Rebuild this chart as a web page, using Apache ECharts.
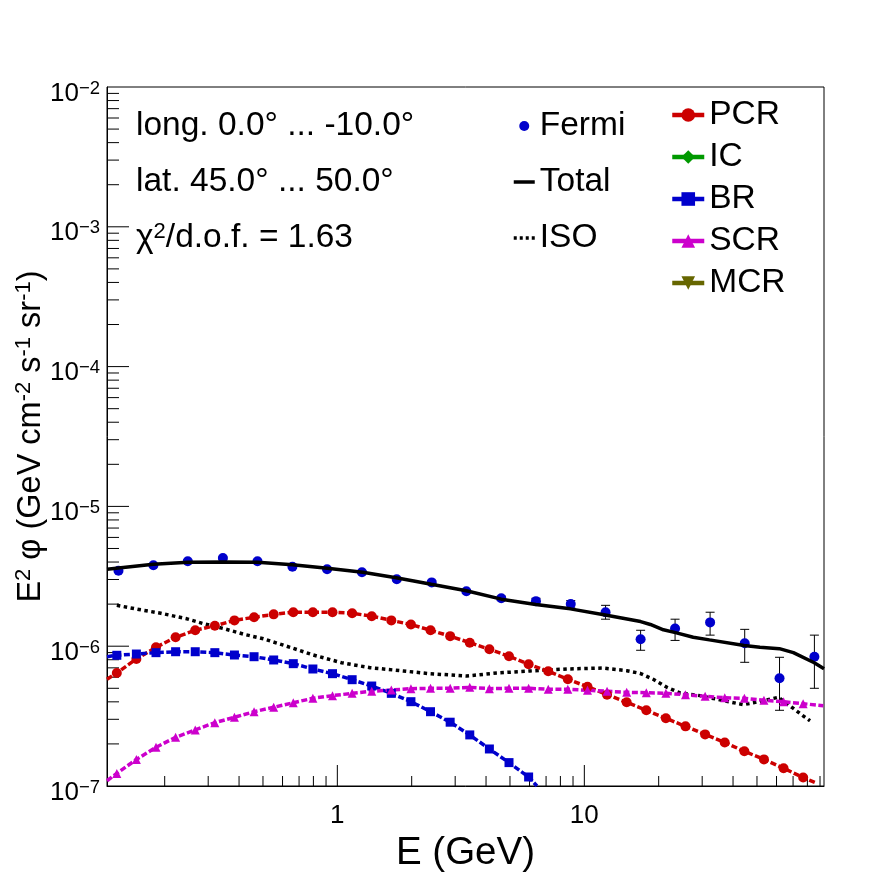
<!DOCTYPE html>
<html>
<head>
<meta charset="utf-8">
<title>Fermi spectrum</title>
<script src="https://cdn.jsdelivr.net/npm/echarts@6/dist/echarts.min.js"></script>
<style>
html, body { margin: 0; padding: 0; background: #fff; }
#container { width: 896px; height: 872px; }
</style>
</head>
<body>
<div id="container"></div>
<script>
// tick values
var xMajor = [1, 10];
var xMinor = [0.2, 0.3, 0.4, 0.5, 0.6, 0.7, 0.8, 0.9, 2, 3, 4, 5, 6, 7, 8, 9, 20, 30, 40, 50, 60, 70, 80, 90];
var yMajor = [1e-7, 1e-6, 1e-5, 1e-4, 1e-3, 1e-2];
var yMinorMant = [2, 3, 4, 5, 6, 7, 8, 9];

// Fermi points and error bars
var fermiE = [0.130, 0.180, 0.248, 0.344, 0.475, 0.658, 0.909, 1.258, 1.74, 2.41, 3.33, 4.61, 6.37, 8.81, 12.19, 16.9, 23.3, 32.3, 44.6, 61.7, 85.4];
var fermiFlux = [3.47e-6, 3.79e-6, 4.05e-6, 4.27e-6, 4.05e-6, 3.70e-6, 3.55e-6, 3.38e-6, 3.01e-6, 2.86e-6, 2.47e-6, 2.20e-6, 2.10e-6, 2.00e-6, 1.75e-6, 1.12e-6, 1.34e-6, 1.48e-6, 1.05e-6, 5.89e-7, 8.41e-7];
var fermiLow = [3.40e-6, 3.72e-6, 3.98e-6, 4.20e-6, 3.98e-6, 3.63e-6, 3.48e-6, 3.31e-6, 2.94e-6, 2.79e-6, 2.40e-6, 2.12e-6, 2.00e-6, 1.88e-6, 1.56e-6, 9.35e-7, 1.10e-6, 1.20e-6, 7.67e-7, 3.48e-7, 5.0e-7];
var fermiHigh = [3.54e-6, 3.86e-6, 4.12e-6, 4.34e-6, 4.12e-6, 3.77e-6, 3.62e-6, 3.45e-6, 3.08e-6, 2.93e-6, 2.54e-6, 2.28e-6, 2.20e-6, 2.12e-6, 1.96e-6, 1.30e-6, 1.56e-6, 1.75e-6, 1.32e-6, 8.33e-7, 1.20e-6];

// Total
var totalE = [0.1168, 0.180, 0.249, 0.345, 0.476, 0.658, 0.911, 1.267, 1.73, 2.40, 3.33, 4.61, 6.36, 8.78, 12.16, 16.9, 18.5, 20.9, 23.4, 27.6, 32.1, 44.4, 51.4, 61.6, 70.2, 85.3, 93.4];
var totalFlux = [3.55e-6, 3.85e-6, 3.98e-6, 4.00e-6, 3.98e-6, 3.83e-6, 3.61e-6, 3.38e-6, 3.09e-6, 2.77e-6, 2.49e-6, 2.17e-6, 1.99e-6, 1.85e-6, 1.67e-6, 1.50e-6, 1.43e-6, 1.31e-6, 1.25e-6, 1.16e-6, 1.11e-6, 1.01e-6, 9.82e-7, 9.60e-7, 8.99e-7, 7.62e-7, 6.90e-7];

// ISO
var isoE = [0.128, 0.160, 0.193, 0.246, 0.291, 0.345, 0.424, 0.502, 0.644, 0.799, 1.04, 1.356, 1.85, 2.37, 3.34, 4.42, 6.03, 8.49, 11.9, 14.85, 16.8, 19.0, 21.6, 24.4, 29.4, 36.5, 44.0, 48.3, 61.0, 69.1, 77.0, 82.0];
var isoFlux = [1.96e-6, 1.82e-6, 1.72e-6, 1.57e-6, 1.44e-6, 1.34e-6, 1.21e-6, 1.13e-6, 9.82e-7, 8.65e-7, 7.62e-7, 7.02e-7, 6.65e-7, 6.36e-7, 6.12e-7, 6.43e-7, 6.65e-7, 6.87e-7, 6.98e-7, 6.68e-7, 6.40e-7, 5.80e-7, 5.08e-7, 4.63e-7, 4.43e-7, 4.08e-7, 3.82e-7, 3.94e-7, 4.31e-7, 3.66e-7, 3.17e-7, 2.93e-7];

// energies where the component markers sit
var gridE = [0.128, 0.1536, 0.1844, 0.2214, 0.2659, 0.3192, 0.3832, 0.4601, 0.5524, 0.6632, 0.7962, 0.9559, 1.148, 1.378, 1.654, 1.986, 2.384, 2.863, 3.437, 4.127, 4.955, 5.949, 7.142, 8.575, 10.30, 12.36, 14.84, 17.82, 21.39, 25.68, 30.83, 37.02, 44.45, 53.37, 64.07, 76.9];
var pcrFlux = [6.43e-7, 8.10e-7, 9.82e-7, 1.158e-6, 1.30e-6, 1.40e-6, 1.53e-6, 1.61e-6, 1.69e-6, 1.75e-6, 1.75e-6, 1.75e-6, 1.72e-6, 1.64e-6, 1.53e-6, 1.43e-6, 1.30e-6, 1.18e-6, 1.06e-6, 9.50e-7, 8.47e-7, 7.42e-7, 6.61e-7, 5.80e-7, 5.13e-7, 4.50e-7, 3.97e-7, 3.48e-7, 3.05e-7, 2.67e-7, 2.34e-7, 2.05e-7, 1.77e-7, 1.55e-7, 1.34e-7, 1.15e-7];
var brFlux = [8.61e-7, 8.79e-7, 8.99e-7, 9.13e-7, 9.13e-7, 8.99e-7, 8.65e-7, 8.41e-7, 7.97e-7, 7.50e-7, 6.87e-7, 6.36e-7, 5.76e-7, 5.19e-7, 4.60e-7, 4.01e-7, 3.40e-7, 2.86e-7, 2.32e-7, 1.84e-7, 1.47e-7, 1.16e-7];
var scrFlux = [1.23e-7, 1.55e-7, 1.89e-7, 2.23e-7, 2.52e-7, 2.84e-7, 3.10e-7, 3.40e-7, 3.66e-7, 3.94e-7, 4.24e-7, 4.43e-7, 4.60e-7, 4.76e-7, 4.86e-7, 4.97e-7, 5.00e-7, 5.00e-7, 5.08e-7, 4.97e-7, 5.00e-7, 5.00e-7, 4.92e-7, 4.92e-7, 4.84e-7, 4.76e-7, 4.68e-7, 4.65e-7, 4.60e-7, 4.50e-7, 4.38e-7, 4.28e-7, 4.24e-7, 4.10e-7, 4.01e-7, 3.88e-7];

// line ends, no marker on these
var pcrEnds = [[0.1168, 5.80e-7], [87.5, 1.045e-7]];
var brEnds = [[0.1168, 8.41e-7], [6.43, 1e-7]];
var scrEnds = [[0.1168, 1.09e-7], [92.8, 3.75e-7]];

var FONT = '"Liberation Sans", Arial, sans-serif';

function zip(a, b) {
    var out = [];
    for (var i = 0; i < a.length; i++) out.push([a[i], b[i]]);
    return out;
}

// curve with a marker on each grid point, the two ends stay bare
function componentData(flux, ends) {
    return [ends[0]].concat(zip(gridE.slice(0, flux.length), flux), [ends[1]]);
}

function componentSeries(name, color, symbol, size, flux, ends) {
    var last = flux.length + 1;
    return {
        name: name,
        type: 'line',
        data: componentData(flux, ends),
        symbol: symbol,
        symbolSize: function (v, p) {
            return (p.dataIndex === 0 || p.dataIndex === last) ? 0 : size;
        },
        lineStyle: { color: color, width: 3.5, type: [6, 2.5] },
        itemStyle: { color: color },
        z: 4
    };
}

// ticks go inward from the left and bottom frame
function tickSeries() {
    var ticks = [];
    xMajor.forEach(function (v) { ticks.push([v, yMajor[0], 'x', 21]); });
    xMinor.forEach(function (v) { ticks.push([v, yMajor[0], 'x', 10]); });
    yMajor.forEach(function (v, i) {
        if (i > 0 && i < yMajor.length - 1) ticks.push([0.1168, v, 'y', 22]);
        if (i < yMajor.length - 1) {
            yMinorMant.forEach(function (m) { ticks.push([0.1168, v * m, 'y', 12]); });
        }
    });
    return {
        type: 'custom',
        silent: true,
        clip: false,
        z: 2,
        data: ticks,
        renderItem: function (params, api) {
            var p = api.coord([api.value(0), api.value(1)]);
            var len = api.value(3);
            var isX = ticks[params.dataIndex][2] === 'x';
            return {
                type: 'line',
                shape: { x1: p[0], y1: p[1], x2: isX ? p[0] : p[0] + len, y2: isX ? p[1] - len : p[1] },
                style: { stroke: '#000', lineWidth: 1 }
            };
        }
    };
}

function errorSeries() {
    var rows = [];
    for (var i = 0; i < fermiE.length; i++) rows.push([fermiE[i], fermiLow[i], fermiHigh[i]]);
    return {
        type: 'custom',
        silent: true,
        z: 3,
        data: rows,
        renderItem: function (params, api) {
            var lo = api.coord([api.value(0), api.value(1)]);
            var hi = api.coord([api.value(0), api.value(2)]);
            var st = { stroke: '#000', lineWidth: 1 };
            return {
                type: 'group',
                children: [
                    { type: 'line', shape: { x1: lo[0], y1: lo[1], x2: hi[0], y2: hi[1] }, style: st },
                    { type: 'line', shape: { x1: lo[0] - 4.5, y1: lo[1], x2: lo[0] + 4.5, y2: lo[1] }, style: st },
                    { type: 'line', shape: { x1: hi[0] - 4.5, y1: hi[1], x2: hi[0] + 4.5, y2: hi[1] }, style: st }
                ]
            };
        }
    };
}

var supRich = {
    b: { fontFamily: FONT, fontSize: 26, color: '#000' },
    s: { fontFamily: FONT, fontSize: 18.5, color: '#000', padding: [0, 0, 10, 0] }
};

var titleRich = {
    s: { fontFamily: FONT, fontSize: 22, color: '#000', padding: [0, 0, 14, 0] }
};

var noteRich = {
    s: { fontFamily: FONT, fontSize: 22, color: '#000', padding: [0, 0, 13, 0] }
};

function noteText(x, y, text) {
    return {
        type: 'text',
        x: x,
        y: y,
        style: { text: text, fontFamily: FONT, fontSize: 33.5, fill: '#000', rich: noteRich, verticalAlign: 'middle' }
    };
}

var option = {
    animation: false,
    backgroundColor: '#fff',
    textStyle: { fontFamily: FONT },
    grid: { left: 107, top: 87, width: 717, height: 699, outerBoundsMode: 'none', show: true, borderColor: '#000', borderWidth: 1, backgroundColor: 'transparent' },
    xAxis: {
        type: 'log',
        min: 0.1168,
        max: 93.4,
        name: 'E (GeV)',
        nameLocation: 'middle',
        nameGap: 48,
        nameTextStyle: { fontFamily: FONT, fontSize: 38.5, color: '#000' },
        axisLine: { lineStyle: { color: '#000', width: 1 } },
        axisTick: { show: false },
        splitLine: { show: false },
        minorTick: { show: false },
        axisLabel: {
            fontFamily: FONT,
            fontSize: 26,
            color: '#000',
            margin: 17,
            showMinLabel: true,
            showMaxLabel: true,
            formatter: function (v) {
                for (var i = 0; i < xMajor.length; i++) {
                    if (Math.abs(v / xMajor[i] - 1) < 1e-6) return String(xMajor[i]);
                }
                return '';
            }
        }
    },
    yAxis: {
        type: 'log',
        min: 1e-7,
        max: 1e-2,
        name: 'E{s|2} \u03c6 (GeV cm{s|-2} s{s|-1} sr{s|-1})',
        nameLocation: 'middle',
        nameGap: 58,
        nameRotate: 90,
        nameMoveOverlap: false,
        nameTextStyle: { fontFamily: FONT, fontSize: 32.5, color: '#000', rich: titleRich },
        axisLine: { lineStyle: { color: '#000', width: 1 } },
        axisTick: { show: false },
        splitLine: { show: false },
        minorTick: { show: false },
        axisLabel: {
            fontFamily: FONT,
            color: '#000',
            margin: 7,
            padding: [13, 0, 0, 0],
            rich: supRich,
            formatter: function (v) {
                return '{b|10}{s|\u2212' + Math.round(-Math.log10(v)) + '}';
            }
        }
    },
    legend: [
        {
            left: 670,
            top: 98,
            padding: 0,
            orient: 'vertical',
            itemWidth: 32,
            itemHeight: 17,
            itemGap: 8,
            symbolSize: 17,
            selectedMode: false,
            lineStyle: { type: 'solid', width: 4.5 },
            textStyle: { fontFamily: FONT, fontSize: 33.5, color: '#000' },
            data: ['PCR', 'IC', 'BR', 'SCR', 'MCR']
        },
        {
            left: 512,
            top: 109,
            padding: 0,
            orient: 'vertical',
            itemWidth: 21,
            itemHeight: 10,
            itemGap: 22,
            selectedMode: false,
            textStyle: { fontFamily: FONT, fontSize: 33.5, color: '#000' },
            data: [
                { name: 'Fermi', icon: 'circle' },
                { name: 'Total', itemStyle: { opacity: 0 }, lineStyle: { type: 'solid', width: 3.5 } },
                { name: 'ISO', itemStyle: { opacity: 0 }, lineStyle: { type: [3, 3], width: 3.5 } }
            ]
        }
    ],
    graphic: [
        noteText(136, 126, 'long. 0.0\u00b0 ... -10.0\u00b0'),
        noteText(136, 182, 'lat. 45.0\u00b0 ... 50.0\u00b0'),
        noteText(136, 238, '\u03c7{s|2}/d.o.f. = 1.63')
    ],
    series: [
        tickSeries(),
        errorSeries(),
        {
            name: 'ISO',
            type: 'line',
            data: zip(isoE, isoFlux),
            symbol: 'none',
            lineStyle: { color: '#000', width: 3.5, type: [3.5, 3.5] },
            itemStyle: { color: '#000' },
            z: 3
        },
        componentSeries('PCR', '#cc0000', 'circle', 10, pcrFlux, pcrEnds),
        { name: 'IC', type: 'line', data: [], symbol: 'diamond', lineStyle: { color: '#009900' }, itemStyle: { color: '#009900' } },
        componentSeries('BR', '#0000cc', 'rect', 9, brFlux, brEnds),
        componentSeries('SCR', '#cc00cc', 'triangle', 9, scrFlux, scrEnds),
        { name: 'MCR', type: 'line', data: [], symbol: 'triangle', symbolRotate: 180, lineStyle: { color: '#666600' }, itemStyle: { color: '#666600' } },
        {
            name: 'Fermi',
            type: 'scatter',
            data: zip(fermiE, fermiFlux),
            symbol: 'circle',
            symbolSize: 10,
            itemStyle: { color: '#0000cc', opacity: 1 },
            z: 5
        },
        {
            name: 'Total',
            type: 'line',
            data: zip(totalE, totalFlux),
            symbol: 'none',
            lineStyle: { color: '#000', width: 3.5 },
            itemStyle: { color: '#000' },
            z: 6
        }
    ]
};

var myChart = echarts.init(document.getElementById('container'), null, { renderer: 'canvas' });
myChart.setOption(option);
</script>
</body>
</html>
